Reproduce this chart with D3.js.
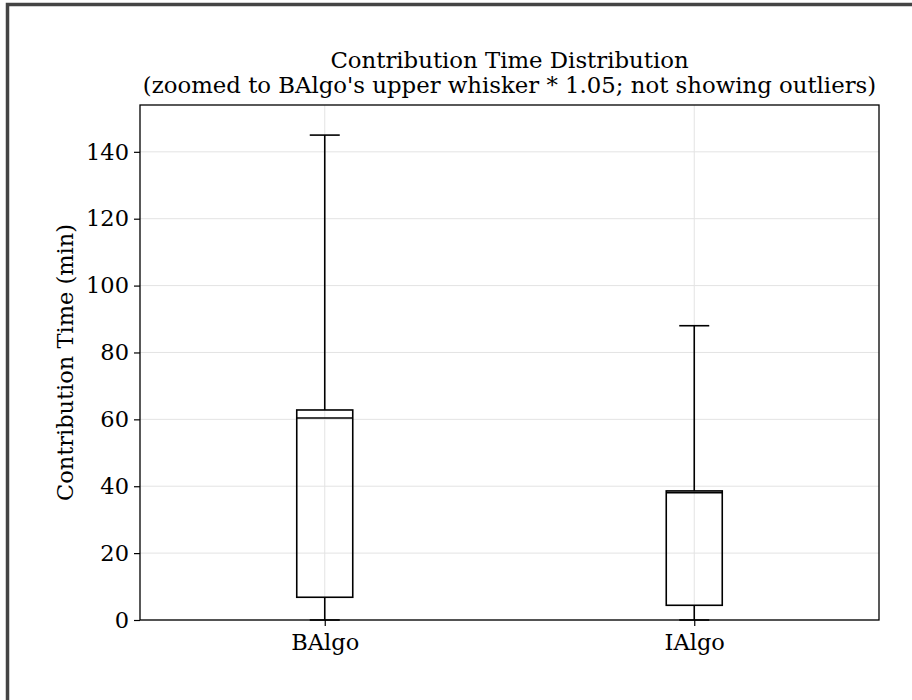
<!DOCTYPE html>
<html>
<head>
<meta charset="utf-8">
<script src="https://cdn.jsdelivr.net/npm/d3@7"></script>
<style>
  body { margin: 0; background: #fff; }
  svg { display: block; font-family: "DejaVu Serif", serif; }
  .grid line { stroke: #e3e3e3; stroke-width: 1; }
</style>
</head>
<body>
<svg id="chart" width="912" height="700"></svg>
<script>
// box stats (minutes)
var algos = ["BAlgo", "IAlgo"];
var whiskLo = [0, 0];
var q1 = [6.8, 4.4];
var median = [60.4, 38.1];
var q3 = [62.8, 38.6];
var whiskHi = [145, 88];
var yTicks = [0, 20, 40, 60, 80, 100, 120, 140];

var svg = d3.select("#chart");
var margin = {left: 140, top: 105, right: 33, bottom: 80};
var W = 912, H = 700;
var fs = 22.5;

// outer frame (only top and left edges fall inside the view)
svg.append("rect")
  .attr("x", 7.5).attr("y", 4.5)
  .attr("width", 1000).attr("height", 1000)
  .attr("fill", "none").attr("stroke", "#444").attr("stroke-width", 3.5);

var x = d3.scaleLinear().domain([0.5, 2.5]).range([margin.left, W - margin.right]);
var y = d3.scaleLinear().domain([0, 154]).range([H - margin.bottom, margin.top]);

var g = svg.append("g");

// grid
var grid = g.append("g").attr("class", "grid");
grid.selectAll(".gy").data(yTicks).enter().append("line")
  .attr("x1", x(0.5)).attr("x2", x(2.5))
  .attr("y1", d => y(d)).attr("y2", d => y(d));
grid.selectAll(".gx").data(algos).enter().append("line")
  .attr("x1", (d, i) => x(i + 1)).attr("x2", (d, i) => x(i + 1))
  .attr("y1", y(0)).attr("y2", y(154));

// boxes
var boxHalf = 28, capHalf = 15;
var boxes = g.selectAll(".box").data(algos).enter().append("g").attr("class", "box");
boxes.append("line")
  .attr("x1", (d, i) => x(i + 1)).attr("x2", (d, i) => x(i + 1))
  .attr("y1", (d, i) => y(q3[i])).attr("y2", (d, i) => y(whiskHi[i]));
boxes.append("line")
  .attr("x1", (d, i) => x(i + 1)).attr("x2", (d, i) => x(i + 1))
  .attr("y1", (d, i) => y(q1[i])).attr("y2", (d, i) => y(whiskLo[i]));
boxes.append("line")
  .attr("x1", (d, i) => x(i + 1) - capHalf).attr("x2", (d, i) => x(i + 1) + capHalf)
  .attr("y1", (d, i) => y(whiskHi[i])).attr("y2", (d, i) => y(whiskHi[i]));
boxes.append("line")
  .attr("x1", (d, i) => x(i + 1) - capHalf).attr("x2", (d, i) => x(i + 1) + capHalf)
  .attr("y1", (d, i) => y(whiskLo[i])).attr("y2", (d, i) => y(whiskLo[i]));
boxes.append("rect")
  .attr("x", (d, i) => x(i + 1) - boxHalf).attr("width", boxHalf * 2)
  .attr("y", (d, i) => y(q3[i])).attr("height", (d, i) => y(q1[i]) - y(q3[i]))
  .attr("fill", "none");
boxes.append("line")
  .attr("x1", (d, i) => x(i + 1) - boxHalf).attr("x2", (d, i) => x(i + 1) + boxHalf)
  .attr("y1", (d, i) => y(median[i])).attr("y2", (d, i) => y(median[i]));
boxes.selectAll("line, rect").attr("stroke", "#000").attr("stroke-width", 1.6);

// axes frame
g.append("rect")
  .attr("x", x(0.5)).attr("y", y(154))
  .attr("width", x(2.5) - x(0.5)).attr("height", y(0) - y(154))
  .attr("fill", "none").attr("stroke", "#000").attr("stroke-width", 1.3);

var yAxis = d3.axisLeft(y).tickValues(yTicks).tickSize(6).tickPadding(5).tickFormat(d3.format("d"));
var ya = g.append("g").attr("transform", "translate(" + x(0.5) + ",0)").call(yAxis);
var xAxis = d3.axisBottom(x).tickValues([1, 2]).tickSize(6).tickPadding(8).tickFormat((d) => algos[d - 1]);
var xa = g.append("g").attr("transform", "translate(0," + y(0) + ")").call(xAxis);
[ya, xa].forEach(function(a) {
  a.select(".domain").remove();
  a.selectAll("line").attr("stroke", "#000").attr("stroke-width", 1.2);
  a.selectAll("text").attr("font-size", fs).attr("fill", "#000").attr("font-family", "DejaVu Serif");
});

// labels
svg.append("text")
  .attr("transform", "translate(73," + (margin.top + y(0)) / 2 + ") rotate(-90)")
  .attr("text-anchor", "middle").attr("font-size", fs).text("Contribution Time (min)");
var cx = (x(0.5) + x(2.5)) / 2;
svg.append("text").attr("x", cx).attr("y", 68).attr("text-anchor", "middle")
  .attr("font-size", 22.8).text("Contribution Time Distribution");
svg.append("text").attr("x", cx).attr("y", 93).attr("text-anchor", "middle")
  .attr("font-size", 22.8).text("(zoomed to BAlgo's upper whisker * 1.05; not showing outliers)");
</script>
</body>
</html>
